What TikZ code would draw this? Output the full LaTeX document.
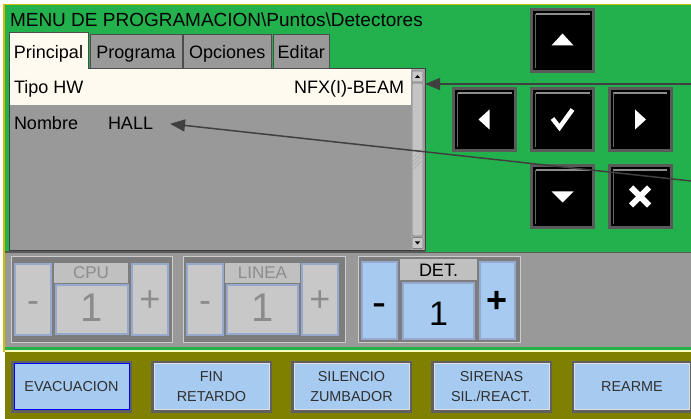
\documentclass[tikz,border=0pt]{standalone}
\usepackage{fontspec}
\setmainfont{Liberation Sans}
\usetikzlibrary{arrows.meta}
\definecolor{scrgreen}{RGB}{34,177,76}
\definecolor{pgray}{RGB}{153,153,153}
\definecolor{cream}{RGB}{255,250,240}
\definecolor{oliveb}{RGB}{128,128,0}
\definecolor{skyb}{RGB}{166,202,240}
\definecolor{ltgray}{RGB}{200,200,200}
\definecolor{lblgray}{RGB}{192,192,192}
\definecolor{dimtext}{RGB}{140,140,140}
\definecolor{navframe}{RGB}{90,90,90}
\definecolor{arrowc}{RGB}{64,64,64}
\definecolor{yline}{RGB}{205,190,0}
\definecolor{framedark}{RGB}{125,125,125}
\definecolor{btnframe}{RGB}{96,96,96}
\definecolor{bluebord}{RGB}{150,168,205}
\definecolor{btntext}{RGB}{48,48,48}
\definecolor{thumbc}{RGB}{196,196,196}
\definecolor{trackc}{RGB}{170,170,170}
\newcommand{\myfs}[1]{\fontsize{#1}{#1}\selectfont}
\begin{document}
\begin{tikzpicture}[x=1pt,y=-1pt,
  txt/.style={inner sep=0pt, outer sep=0pt},
  rbox/.style={inner sep=0pt, outer sep=0pt},
  taboff/.style={rbox, fill=pgray, draw=black!70, line width=1pt, text height=16.6pt, text depth=4pt, font=\myfs{18}},
  tabon/.style={rbox, fill=cream, draw=black!70, line width=1pt, text height=19.1pt, text depth=4pt, font=\myfs{18}},
  navbtn/.style={rbox, fill=black, draw=navframe, line width=3pt, minimum width=62pt, minimum height=62pt,
    path picture={
      \draw[black!45, line width=1.6pt] ([xshift=4pt,yshift=-4.5pt]path picture bounding box.north west) -- ([xshift=-4pt,yshift=-4.5pt]path picture bounding box.north east);
      \draw[black!60, line width=0.8pt] ([xshift=4pt,yshift=-4.5pt]path picture bounding box.north west) -- ([xshift=4pt,yshift=3pt]path picture bounding box.south west);}},
  navsym/.style={white},
  conn/.style={draw=arrowc, line width=1.5pt, -{Triangle[length=15pt,width=12pt]}},
  grpframe/.style={rbox, fill=framedark, draw=black!20, line width=1pt},
  grayb/.style={rbox, fill=ltgray, draw=bluebord, line width=1.2pt},
  blueb/.style={rbox, fill=skyb, draw=bluebord, line width=1.2pt},
  lblbox/.style={rbox, fill=lblgray},
  bigbtn/.style={rbox, fill=skyb, draw=black!12, line width=1pt, minimum width=115pt, minimum height=46pt,
    preaction={draw=btnframe, line width=6pt}, align=center, text=btntext, font=\fontsize{14.4}{20}\selectfont},
  sbbtn/.style={rbox, fill=ltgray, draw=black!50, line width=0.6pt, rounded corners=1pt, minimum width=11pt, minimum height=11pt}
]
\useasboundingbox (0,0) rectangle (691,419);
% backgrounds
\fill[white] (0,0) rectangle (691,419);
\fill[scrgreen] (5,5) rectangle (691,252);
\fill[black!65] (5,251) rectangle (425,253);
\fill[black!65] (425,252) rectangle (691,253.5);
\fill[pgray] (5,253.5) rectangle (691,347);
\fill[scrgreen] (5,347) rectangle (691,350);
\fill[yellow!25!white] (5,350) rectangle (691,352);
\fill[oliveb] (5,352) rectangle (691,419);
\draw[yline, line width=1.5pt] (4,352) -- (4,4.5) -- (691,4.5);

% title
\node[txt, anchor=base west] (title) at (10,27) {\myfs{19}MENU DE PROGRAMACION\textbackslash Puntos\textbackslash Detectores};

% content panel
\node[rbox, fill=pgray, draw=black!75, line width=1pt, minimum width=416pt, minimum height=182.5pt] (panel) at (217,159.75) {};
\node[rbox, fill=cream, minimum width=400.5pt, minimum height=35.5pt] (row1) at (210.25,87.25) {};

% tabs
\node[tabon, minimum width=79pt, minimum height=36.5pt] (tprin) at (48.5,50.75) {Principal};
\fill[cream] (9.5,67.5) rectangle (87.5,70);
\node[taboff, minimum width=92pt, minimum height=34pt] (tprog) at (136,52) {Programa};
\node[taboff, minimum width=87.5pt, minimum height=34pt] (topc) at (227.25,52) {Opciones};
\node[taboff, minimum width=56.5pt, minimum height=34pt] (tedit) at (301.25,52) {Editar};

% rows
\node[txt, anchor=base west, font=\myfs{18}] (tipo) at (14,94) {Tipo HW};
\node[txt, anchor=base east, font=\myfs{18}] (nfx) at (404,94) {NFX(I)-BEAM};
\node[txt, anchor=base west, font=\myfs{18}] (nombre) at (14,130) {Nombre};
\node[txt, anchor=base west, font=\myfs{18}] (hall) at (108,130) {HALL};

% scrollbar
\node[rbox, fill=trackc, minimum width=13pt, minimum height=181pt] (sbtrack) at (417.5,160) {};
\node[sbbtn] (sbup) at (417.5,76.5) {};
\fill[black] (sbup.center) ++(-2.5,1.5) -- ++(5,0) -- ++(-2.5,-3) -- cycle;
\node[rbox, fill=thumbc, draw=black!50, line width=0.6pt, rounded corners=2pt, minimum width=11pt, minimum height=153pt] (sbthumb) at (417.5,159.5) {};
\foreach \k in {0,4,8,12}
  \draw[black!35, line width=0.6pt] (413.5,{169-\k}) -- (421.5,{161-\k});
\node[sbbtn] (sbdown) at (417.5,243) {};
\fill[black] (sbdown.center) ++(-2.5,-1.5) -- ++(5,0) -- ++(-2.5,3) -- cycle;

% navigation buttons
\node[navbtn] (bup) at (562.5,40.5) {};
\node[navbtn] (bleft) at (484.5,119.5) {};
\node[navbtn] (bok) at (562.5,119.5) {};
\node[navbtn] (bright) at (640,119.5) {};
\node[navbtn] (bdown) at (562.5,196.5) {};
\node[navbtn] (bcancel) at (640,196.5) {};
\fill[navsym] (bup.center) ++(-11,5) -- ++(22,0) -- ++(-11,-12) -- cycle;
\fill[navsym] (bleft.center) ++(5,-10) -- ++(0,20) -- ++(-11,-10) -- cycle;
\fill[navsym] (bright.center) ++(-5,-10) -- ++(0,20) -- ++(11,-10) -- cycle;
\fill[navsym] (bdown.center) ++(-11,-5) -- ++(22,0) -- ++(-11,11) -- cycle;
\draw[navsym, line width=4.5pt, line join=miter] (bok.center) ++(-10,-1) -- ++(7,9) -- ++(13,-18);
\draw[navsym, line width=6pt] (bcancel.center) ++(-9,-9) -- ++(18,18);
\draw[navsym, line width=6pt] (bcancel.center) ++(-9,9) -- ++(18,-18);

% connectors
\coordinate (src1) at (691,84);
\coordinate (src2) at (691,181);
\draw[conn] (src1) -- (src1 -| panel.east);
\draw[conn] (src2) -- ([xshift=17pt]hall.east);

% CPU group
\node[grpframe, minimum width=161pt, minimum height=86pt] (cpufr) at (91.5,300) {};
\node[grayb, minimum width=36pt, minimum height=71pt] (cpum) at (33,299.5) {};
\node[lblbox, minimum width=74pt, minimum height=20pt] (cpul) at (91,273) {};
\node[grayb, minimum width=72pt, minimum height=49pt] (cpuv) at (92,309.5) {};
\node[grayb, minimum width=36pt, minimum height=71pt] (cpup) at (150,299.5) {};
\node[txt, anchor=base, text=dimtext, font=\myfs{17}] (cpult) at (91,279) {CPU};
\node[txt, anchor=base, text=dimtext, font=\myfs{36}] (cpumt) at (33,313) {-};
\node[txt, anchor=base, text=dimtext, font=\myfs{36}] (cpupt) at (150,312) {+};
\node[txt, anchor=base, text=dimtext, font=\myfs{40}] (cpuvt) at (92,322) {1};

% LINEA group
\node[grpframe, minimum width=162pt, minimum height=86pt] (linfr) at (264,300) {};
\node[grayb, minimum width=36pt, minimum height=71pt] (linm) at (205,299.5) {};
\node[lblbox, minimum width=75pt, minimum height=20pt] (linl) at (262.5,273) {};
\node[grayb, minimum width=71pt, minimum height=49pt] (linv) at (262.5,309.5) {};
\node[grayb, minimum width=36pt, minimum height=71pt] (linp) at (320,299.5) {};
\node[txt, anchor=base, text=dimtext, font=\myfs{17}] (linlt) at (262.5,279) {LINEA};
\node[txt, anchor=base, text=dimtext, font=\myfs{36}] (linmt) at (205,313) {-};
\node[txt, anchor=base, text=dimtext, font=\myfs{36}] (linpt) at (320,312) {+};
\node[txt, anchor=base, text=dimtext, font=\myfs{40}] (linvt) at (262.5,322) {1};

% DET group
\node[grpframe, minimum width=162pt, minimum height=86pt] (detfr) at (439,300) {};
\node[blueb, minimum width=35pt, minimum height=77pt] (detm) at (379.5,300.5) {};
\node[lblbox, minimum width=77pt, minimum height=21pt] (detl) at (438.5,269.5) {};
\node[blueb, minimum width=71pt, minimum height=56pt] (detv) at (438.5,311) {};
\node[blueb, minimum width=35pt, minimum height=77pt] (detp) at (497.5,300.5) {};
\node[txt, anchor=base, font=\myfs{18}] (detlt) at (438.5,276.5) {DET.};
\node[txt, anchor=base, font=\myfs{42}] (detmt) at (379.5,317) {-};
\node[txt, anchor=base, font=\bfseries\myfs{36}] (detpt) at (497.5,313) {+};
\node[txt, anchor=base, font=\myfs{34}] (detvt) at (438.5,326) {1};

% bottom buttons
\node[bigbtn, draw=blue] (evac) at (71.5,387) {EVACUACION};
\node[bigbtn] (fin) at (211.5,387) {FIN\\RETARDO};
\node[bigbtn] (sil) at (351.5,387) {SILENCIO\\ZUMBADOR};
\node[bigbtn] (sir) at (491.5,387) {SIRENAS\\SIL./REACT.};
\node[bigbtn] (rearme) at (632,387) {REARME};
\end{tikzpicture}
\end{document}
